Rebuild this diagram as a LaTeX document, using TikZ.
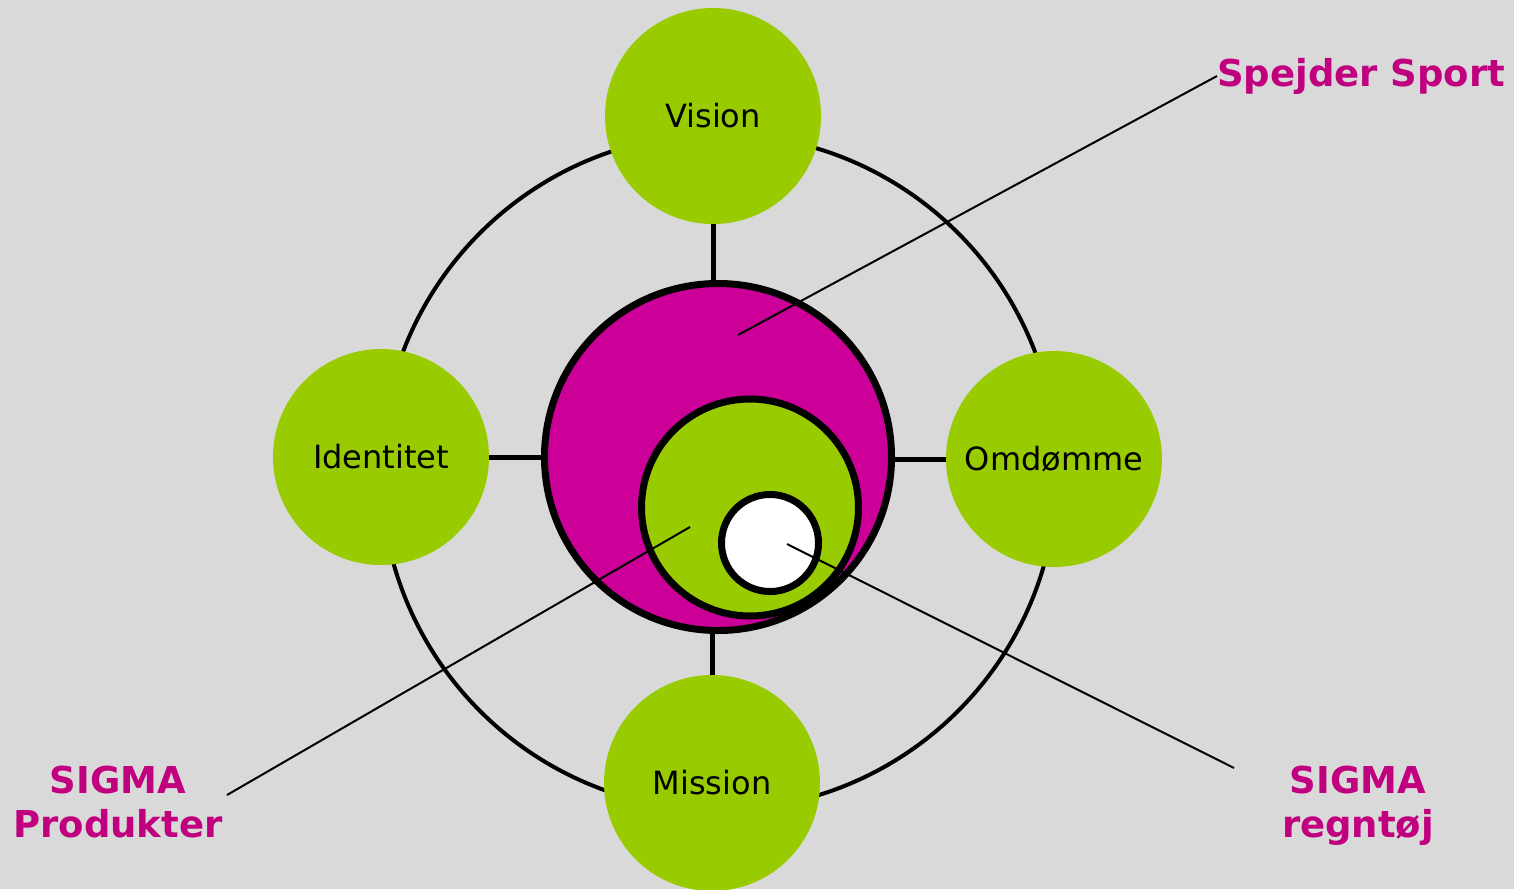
\documentclass[tikz,border=0pt]{standalone}
\usepackage{fontspec}
\setmainfont{DejaVu Sans}
\definecolor{bg}{HTML}{D9D9D9}
\definecolor{lime}{HTML}{99CC00}
\definecolor{mag}{HTML}{CC0099}
\definecolor{magtext}{HTML}{C0007F}
\tikzset{
  sat/.style={circle, fill=lime, minimum size=216pt, inner sep=0pt, font=\fontsize{32}{38}\selectfont},
  spoke/.style={line width=5pt},
  ringline/.style={line width=4pt},
  thick circ/.style={circle, draw=black, line width=7pt, inner sep=0pt},
  lbl/.style={inner sep=0pt, text=magtext, font=\fontsize{37}{44}\selectfont\bfseries, align=center},
  leader/.style={line width=2pt}
}
\begin{document}
\begin{tikzpicture}[x=1pt,y=-1pt]
\fill[bg] (0,0) rectangle (1514,889);
\useasboundingbox (0,0) rectangle (1514,889);
% outer ring
\node[circle, draw=black, ringline, minimum size=676pt, inner sep=0pt] (ring) at (719,472) {};
% core circles
\node[thick circ, fill=mag, minimum size=347pt] (core) at (718,457) {};
% satellites
\node[sat] (vision) at (713,116) {Vision};
\node[sat] (ident) at (381,457) {Identitet};
\node[sat] (omd) at (1054,459) {Omdømme};
\node[sat] (mission) at (712,783) {Mission};
% spokes
\draw[spoke] (vision.south) -- (vision.south |- core.north);
\draw[spoke] (mission.north) -- (mission.north |- core.south);
\draw[spoke] (ident.east) -- (ident.east -| core.west);
\draw[spoke] (omd.west) -- (omd.west -| core.east);
% inner circles
\node[thick circ, fill=lime, minimum size=217pt] (prod) at (750,507.5) {};
\node[thick circ, fill=white, minimum size=97pt] (regn) at (770,543) {};
% labels
\node[lbl, anchor=west] (spejder) at (1217,76) {Spejder Sport};
\node[lbl] (sigprod) at (118,802) {SIGMA\\Produkter};
\node[lbl] (sigregn) at (1358,806) {SIGMA\\regntøj};
% leader coordinates
\coordinate (p1) at (738,335);
\coordinate (p2) at (690,527);
\coordinate (e2) at (227,795);
\coordinate (p3) at (787,544);
\coordinate (e3) at (1234,768);
\draw[leader] (p1) -- (spejder.west);
\draw[leader] (p2) -- (e2);
\draw[leader] (p3) -- (e3);
\end{tikzpicture}
\end{document}
